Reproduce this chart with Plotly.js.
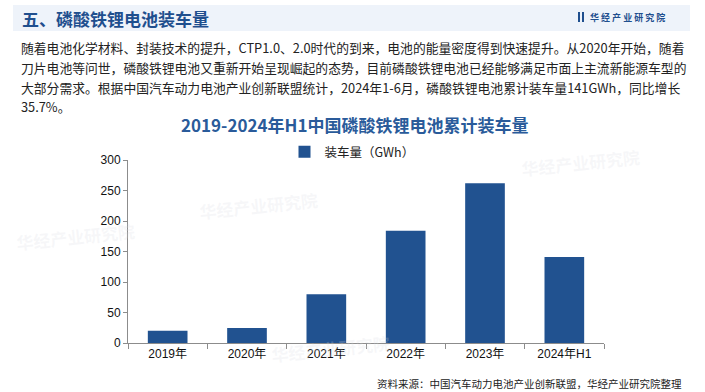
<!DOCTYPE html>
<html><head><meta charset="utf-8">
<script src="https://cdn.plot.ly/plotly-3.0.1.min.js"></script>
<style>html,body{margin:0;padding:0;background:#fff;}#c{width:705px;height:392px;}</style>
</head><body><div id="c"></div>
<script>
const categories = ["2019年","2020年","2021年","2022年","2023年","2024年H1"];
const values = [20, 24.5, 80, 184, 262, 141];
const seriesName = "装车量（GWh）";
const yTicks = [0,50,100,150,200,250,300];
const headerTitle = "五、磷酸铁锂电池装车量";
const chartTitle = "2019-2024年H1中国磷酸铁锂电池累计装车量";
const paragraph = [
  "随着电池化学材料、封装技术的提升，CTP1.0、2.0时代的到来，电池的能量密度得到快速提升。从2020年开始，随着",
  "刀片电池等问世，磷酸铁锂电池又重新开始呈现崛起的态势，目前磷酸铁锂电池已经能够满足市面上主流新能源车型的",
  "大部分需求。根据中国汽车动力电池产业创新联盟统计，2024年1-6月，磷酸铁锂电池累计装车量141GWh，同比增长",
  "35.7%。"
];
const sourceText = "资料来源：中国汽车动力电池产业创新联盟，华经产业研究院整理";
const brand = "华 经 产 业 研 究 院";

const W=705,H=392,L=128,R=604,T=160,B=343;
const px = x => (x-L)/(R-L);
const py = y => (B-y)/(B-T);
const CJK = '"Noto Sans CJK SC", "Noto Sans", sans-serif';
const ARIAL = 'Arial, "Liberation Sans", "Noto Sans CJK SC", sans-serif';

const annotations = [];
annotations.push({xref:'paper',yref:'paper',x:px(20),y:py(18),xanchor:'left',yanchor:'middle',showarrow:false,
  text:'<b>'+headerTitle+'</b>',font:{family:CJK,size:17,color:'#1f4f8e'}});
annotations.push({xref:'paper',yref:'paper',x:px(588),y:py(17),xanchor:'left',yanchor:'middle',showarrow:false,
  text:'<b>'+brand+'</b>',font:{family:CJK,size:9,color:'#1f4f8e'}});
paragraph.forEach((t,i)=>{
  annotations.push({xref:'paper',yref:'paper',x:px(19),y:py(47+i*20),xanchor:'left',yanchor:'middle',showarrow:false,
    text:t,font:{family:CJK,size:12.8,color:'#222'}});
});
annotations.push({xref:'paper',yref:'paper',x:px(354),y:py(124),xanchor:'center',yanchor:'middle',showarrow:false,
  text:'<b>'+chartTitle+'</b>',font:{family:CJK,size:17,color:'#2a5b9a'}});
annotations.push({xref:'paper',yref:'paper',x:px(684),y:py(383),xanchor:'right',yanchor:'middle',showarrow:false,
  text:sourceText,font:{family:CJK,size:10.5,color:'#222'}});
// faint watermarks
[[258,205],[580,162],[75,236],[330,348]].forEach(([x,y])=>{
  annotations.push({xref:'paper',yref:'paper',x:px(x),y:py(y),xanchor:'center',yanchor:'middle',showarrow:false,
    text:'<b>华经产业研究院</b>',textangle:-6,font:{family:CJK,size:17,color:'rgba(215,218,225,0.22)'}});
});

const shapes = [
  {type:'rect',xref:'paper',yref:'paper',x0:px(13),x1:px(690),y0:py(31),y1:py(5),fillcolor:'#eef3fa',line:{width:0},layer:'below'},
  {type:'rect',xref:'paper',yref:'paper',x0:px(578),x1:px(580),y0:py(22),y1:py(12),fillcolor:'#1f4f8e',line:{width:0}},
  {type:'rect',xref:'paper',yref:'paper',x0:px(582),x1:px(584),y0:py(22),y1:py(12),fillcolor:'#1f4f8e',line:{width:0}}
];

const data = [{type:'bar',x:categories,y:values,name:seriesName,marker:{color:'#215290'},width:0.5,hoverinfo:'x+y'}];
const layout = {
  width:W,height:H,margin:{l:L,r:W-R,t:T,b:H-B,pad:0},
  paper_bgcolor:'#fff',plot_bgcolor:'rgba(0,0,0,0)',
  showlegend:true,
  legend:{orientation:'h',x:px(352),y:py(152),xanchor:'center',yanchor:'middle',itemwidth:30,
    font:{family:CJK,size:12.5,color:'#222'},bgcolor:'rgba(0,0,0,0)'},
  xaxis:{type:'category',showgrid:false,showline:true,linecolor:'#8c8c8c',linewidth:1,ticks:'outside',tickson:'boundaries',ticklen:5,tickcolor:'#8c8c8c',
    tickfont:{family:ARIAL,size:12,color:'#111'},fixedrange:true},
  yaxis:{range:[0,300],tickvals:yTicks,showgrid:false,zeroline:false,showline:true,linecolor:'#8c8c8c',linewidth:1,ticks:'outside',ticklen:4,tickcolor:'#8c8c8c',
    tickfont:{family:ARIAL,size:12,color:'#111'},fixedrange:true},
  annotations:annotations,shapes:shapes
};
Plotly.newPlot('c',data,layout,{displayModeBar:false,staticPlot:true});
</script></body></html>
